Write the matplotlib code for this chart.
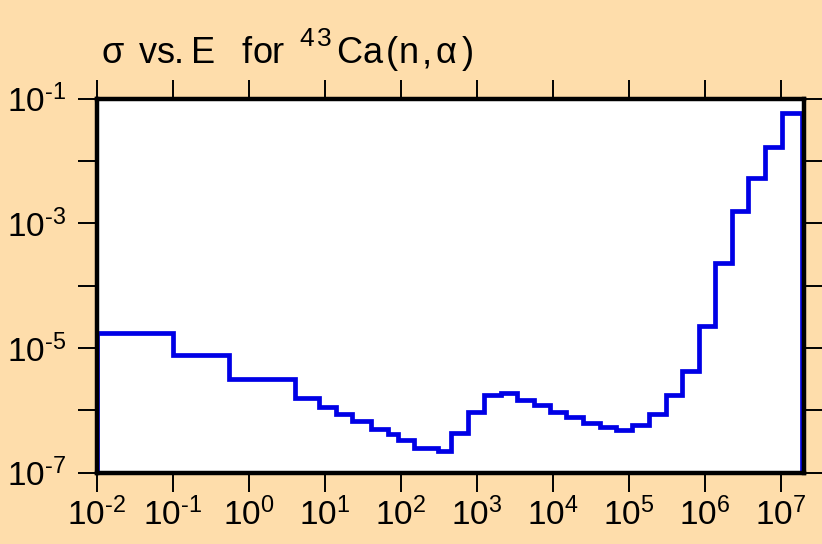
import matplotlib
matplotlib.use("Agg")
import matplotlib.pyplot as plt
import numpy as np
from matplotlib.ticker import FixedLocator, FixedFormatter, NullLocator

plt.rcParams['font.family'] = ['Liberation Sans', 'DejaVu Sans']
plt.rcParams['mathtext.fontset'] = 'custom'
plt.rcParams['mathtext.rm'] = 'Liberation Sans'
plt.rcParams['mathtext.it'] = 'Liberation Sans'
plt.rcParams['mathtext.default'] = 'regular'

# Energy group edges (eV) and cross sections (b)
energy_edges = [1e-2, 1.0e-1, 0.55, 4.06, 8.4, 13.9, 23.1, 40.6, 67.5, 91.3,
                148, 307, 459, 762, 1259, 2070, 3390, 5620, 9140, 1.5e4,
                2.5e4, 4.15e4, 6.8e4, 1.1e5, 1.85e5, 3.07e5, 5.0e5, 8.4e5,
                1.37e6, 2.27e6, 3.75e6, 6.2e6, 1.03e7, 1.89e7]
sigma = [1.76e-5, 7.8e-6, 3.16e-6, 1.54e-6, 1.14e-6, 8.8e-7, 6.7e-7, 5.0e-7,
         4.14e-7, 3.38e-7, 2.51e-7, 2.25e-7, 4.25e-7, 9.2e-7, 1.77e-6, 1.9e-6,
         1.47e-6, 1.19e-6, 9.4e-7, 7.8e-7, 6.3e-7, 5.3e-7, 4.85e-7, 5.85e-7,
         8.7e-7, 1.75e-6, 4.3e-6, 2.28e-5, 2.3e-4, 1.57e-3, 5.3e-3, 1.67e-2,
         5.85e-2]
x_ticks = [1e-2, 1e-1, 1e0, 1e1, 1e2, 1e3, 1e4, 1e5, 1e6, 1e7]
x_labels = ['-2', '-1', '0', '1', '2', '3', '4', '5', '6', '7']
y_ticks = [1e-7, 1e-6, 1e-5, 1e-4, 1e-3, 1e-2, 1e-1]
y_labels = ['-7', '', '-5', '', '-3', '', '-1']
# Title characters with their x pixel positions; superscript flag
title_chars = [('σ', 101, False), ('v', 139, False), ('s', 157, False),
               ('.', 174, False), ('E', 191, False), ('f', 241, False),
               ('o', 252, False), ('r', 272, False), ('4', 299, True),
               ('3', 317, True), ('C', 336, False), ('a', 362, False),
               ('(', 386, False), ('n', 399, False), (',', 422, False),
               ('α', 435, False), (')', 462, False)]

bg = '#FEDDAB'
W, H = 822, 544
fig = plt.figure(figsize=(W / 100, H / 100), dpi=100, facecolor=bg)
ax = fig.add_axes([0.1176, 0.1314, 0.86, 0.6875])
ax.set_facecolor('white')

ax.stairs(sigma, energy_edges, baseline=1e-9, color='#0000E6', lw=3.4,
          fill=False, zorder=2)

ax.set_xscale('log')
ax.set_yscale('log')
ax.set_xlim(1e-2, 2.0e7)
ax.set_ylim(1e-7, 1e-1)

def fmt(e):
    if e == '':
        return ''
    return r'$10^{\text{' + e + '}}$' if e.startswith('-') else r'$10^{' + e + '}$'

ax.xaxis.set_major_locator(FixedLocator(x_ticks))
ax.xaxis.set_major_formatter(FixedFormatter([fmt(e) for e in x_labels]))
ax.xaxis.set_minor_locator(NullLocator())
ax.yaxis.set_major_locator(FixedLocator(y_ticks))
ax.yaxis.set_major_formatter(FixedFormatter([fmt(e) for e in y_labels]))
ax.yaxis.set_minor_locator(NullLocator())

ax.tick_params(which='major', direction='out', length=14, width=1.4,
               color='black', labelsize=24, top=True, right=True,
               labeltop=False, labelright=False)
ax.tick_params(axis='x', pad=4)
ax.tick_params(axis='y', pad=8)
for s in ax.spines.values():
    s.set_linewidth(3.2)
    s.set_color('black')
    s.set_zorder(3)

for ch, xp, sup in title_chars:
    if sup:
        fig.text(xp / W, 1 - 46 / H, ch, fontsize=19, ha='left',
                 va='baseline', color='black')
    else:
        fig.text(xp / W, 1 - 63 / H, ch, fontsize=26, ha='left',
                 va='baseline', color='black')

fig.savefig('out.png', dpi=100, facecolor=bg)
